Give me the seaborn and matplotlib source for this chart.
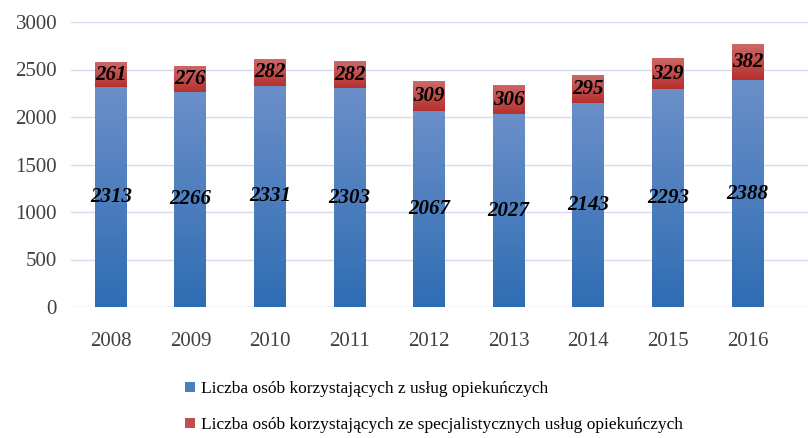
import matplotlib
matplotlib.use("Agg")
import matplotlib.pyplot as plt
import numpy as np
import pandas as pd
import seaborn as sns
from matplotlib.colors import LinearSegmentedColormap
from matplotlib.patches import Patch

years = ["2008", "2009", "2010", "2011", "2012", "2013", "2014", "2015", "2016"]
opiekuncze = [2313, 2266, 2331, 2303, 2067, 2027, 2143, 2293, 2388]
specjalistyczne = [261, 276, 282, 282, 309, 306, 295, 329, 382]
series_names = [
    "Liczba osób korzystających z usług opiekuńczych",
    "Liczba osób korzystających ze specjalistycznych usług opiekuńczych",
]

df = pd.DataFrame({"rok": years, "base": opiekuncze, "spec": specjalistyczne})
df["total"] = df["base"] + df["spec"]

sns.set_theme(style="white")
plt.rcParams["font.family"] = ["Liberation Serif", "DejaVu Serif"]

fig = plt.figure(figsize=(8.08, 4.38), dpi=100)
ax = fig.add_axes([71 / 808, 1 - 307 / 438, 737 / 808, 285 / 438])

blue_top, blue_bot = "#6b8fc9", "#2f6db3"
red_top, red_bot = "#cc6a68", "#b5312f"

# total bar (red segment shows above the blue one)
sns.barplot(data=df, x="rok", y="total", color=red_bot, width=0.4,
            saturation=1, ax=ax, linewidth=0)
sns.barplot(data=df, x="rok", y="base", color=blue_bot, width=0.4,
            saturation=1, ax=ax, linewidth=0)

ax.yaxis.grid(True, color="#d9d9ef", linewidth=1)
ax.set_axisbelow(True)
for s in ax.spines.values():
    s.set_visible(False)
ax.set_xlabel("")
ax.set_ylabel("")
ax.set_yticks(range(0, 3001, 500))
ax.tick_params(axis="both", length=0, labelsize=15, colors="#404040")
ax.tick_params(axis="x", pad=18)
ax.tick_params(axis="y", pad=10)

# vertical gradients clipped to each bar
n = len(years)
grad = np.linspace(0, 1, 256).reshape(-1, 1)
cmap_red = LinearSegmentedColormap.from_list("r", [red_bot, red_top])
cmap_blue = LinearSegmentedColormap.from_list("b", [blue_bot, blue_top])
for i, p in enumerate(ax.patches):
    x0, y0 = p.get_x(), p.get_y()
    w, h = p.get_width(), p.get_height()
    if i < n:
        cmap = cmap_red
        ext = [x0, x0 + w, df["base"].iloc[i], y0 + h]
    else:
        cmap = cmap_blue
        ext = [x0, x0 + w, y0, y0 + h]
    im = ax.imshow(grad, cmap=cmap, extent=ext, origin="lower",
                   aspect="auto", zorder=p.get_zorder() + 0.1)
    im.set_clip_path(p)
ax.set_xlim(-0.5, 8.76)
ax.set_ylim(0, 3000)

# data labels
for i in range(n):
    b, s = df["base"].iloc[i], df["spec"].iloc[i]
    ax.text(i, b / 2, str(b), ha="center", va="center", fontsize=15,
            fontweight="bold", fontstyle="italic", color="black", zorder=5)
    ax.text(i, b + s / 2, str(s), ha="center", va="center", fontsize=15,
            fontweight="bold", fontstyle="italic", color="black", zorder=5)

handles = [Patch(facecolor="#4a7fc0", edgecolor="none"),
           Patch(facecolor="#c0504d", edgecolor="none")]
fig.legend(handles, series_names, loc="upper left",
           bbox_to_anchor=(185 / 808, 1 - 381 / 438), frameon=False,
           fontsize=12.5, handlelength=0.55, handleheight=0.55,
           handletextpad=0.35, labelspacing=1.15, labelcolor="black",
           borderpad=0, borderaxespad=0)

fig.savefig("out.png", dpi=100)
